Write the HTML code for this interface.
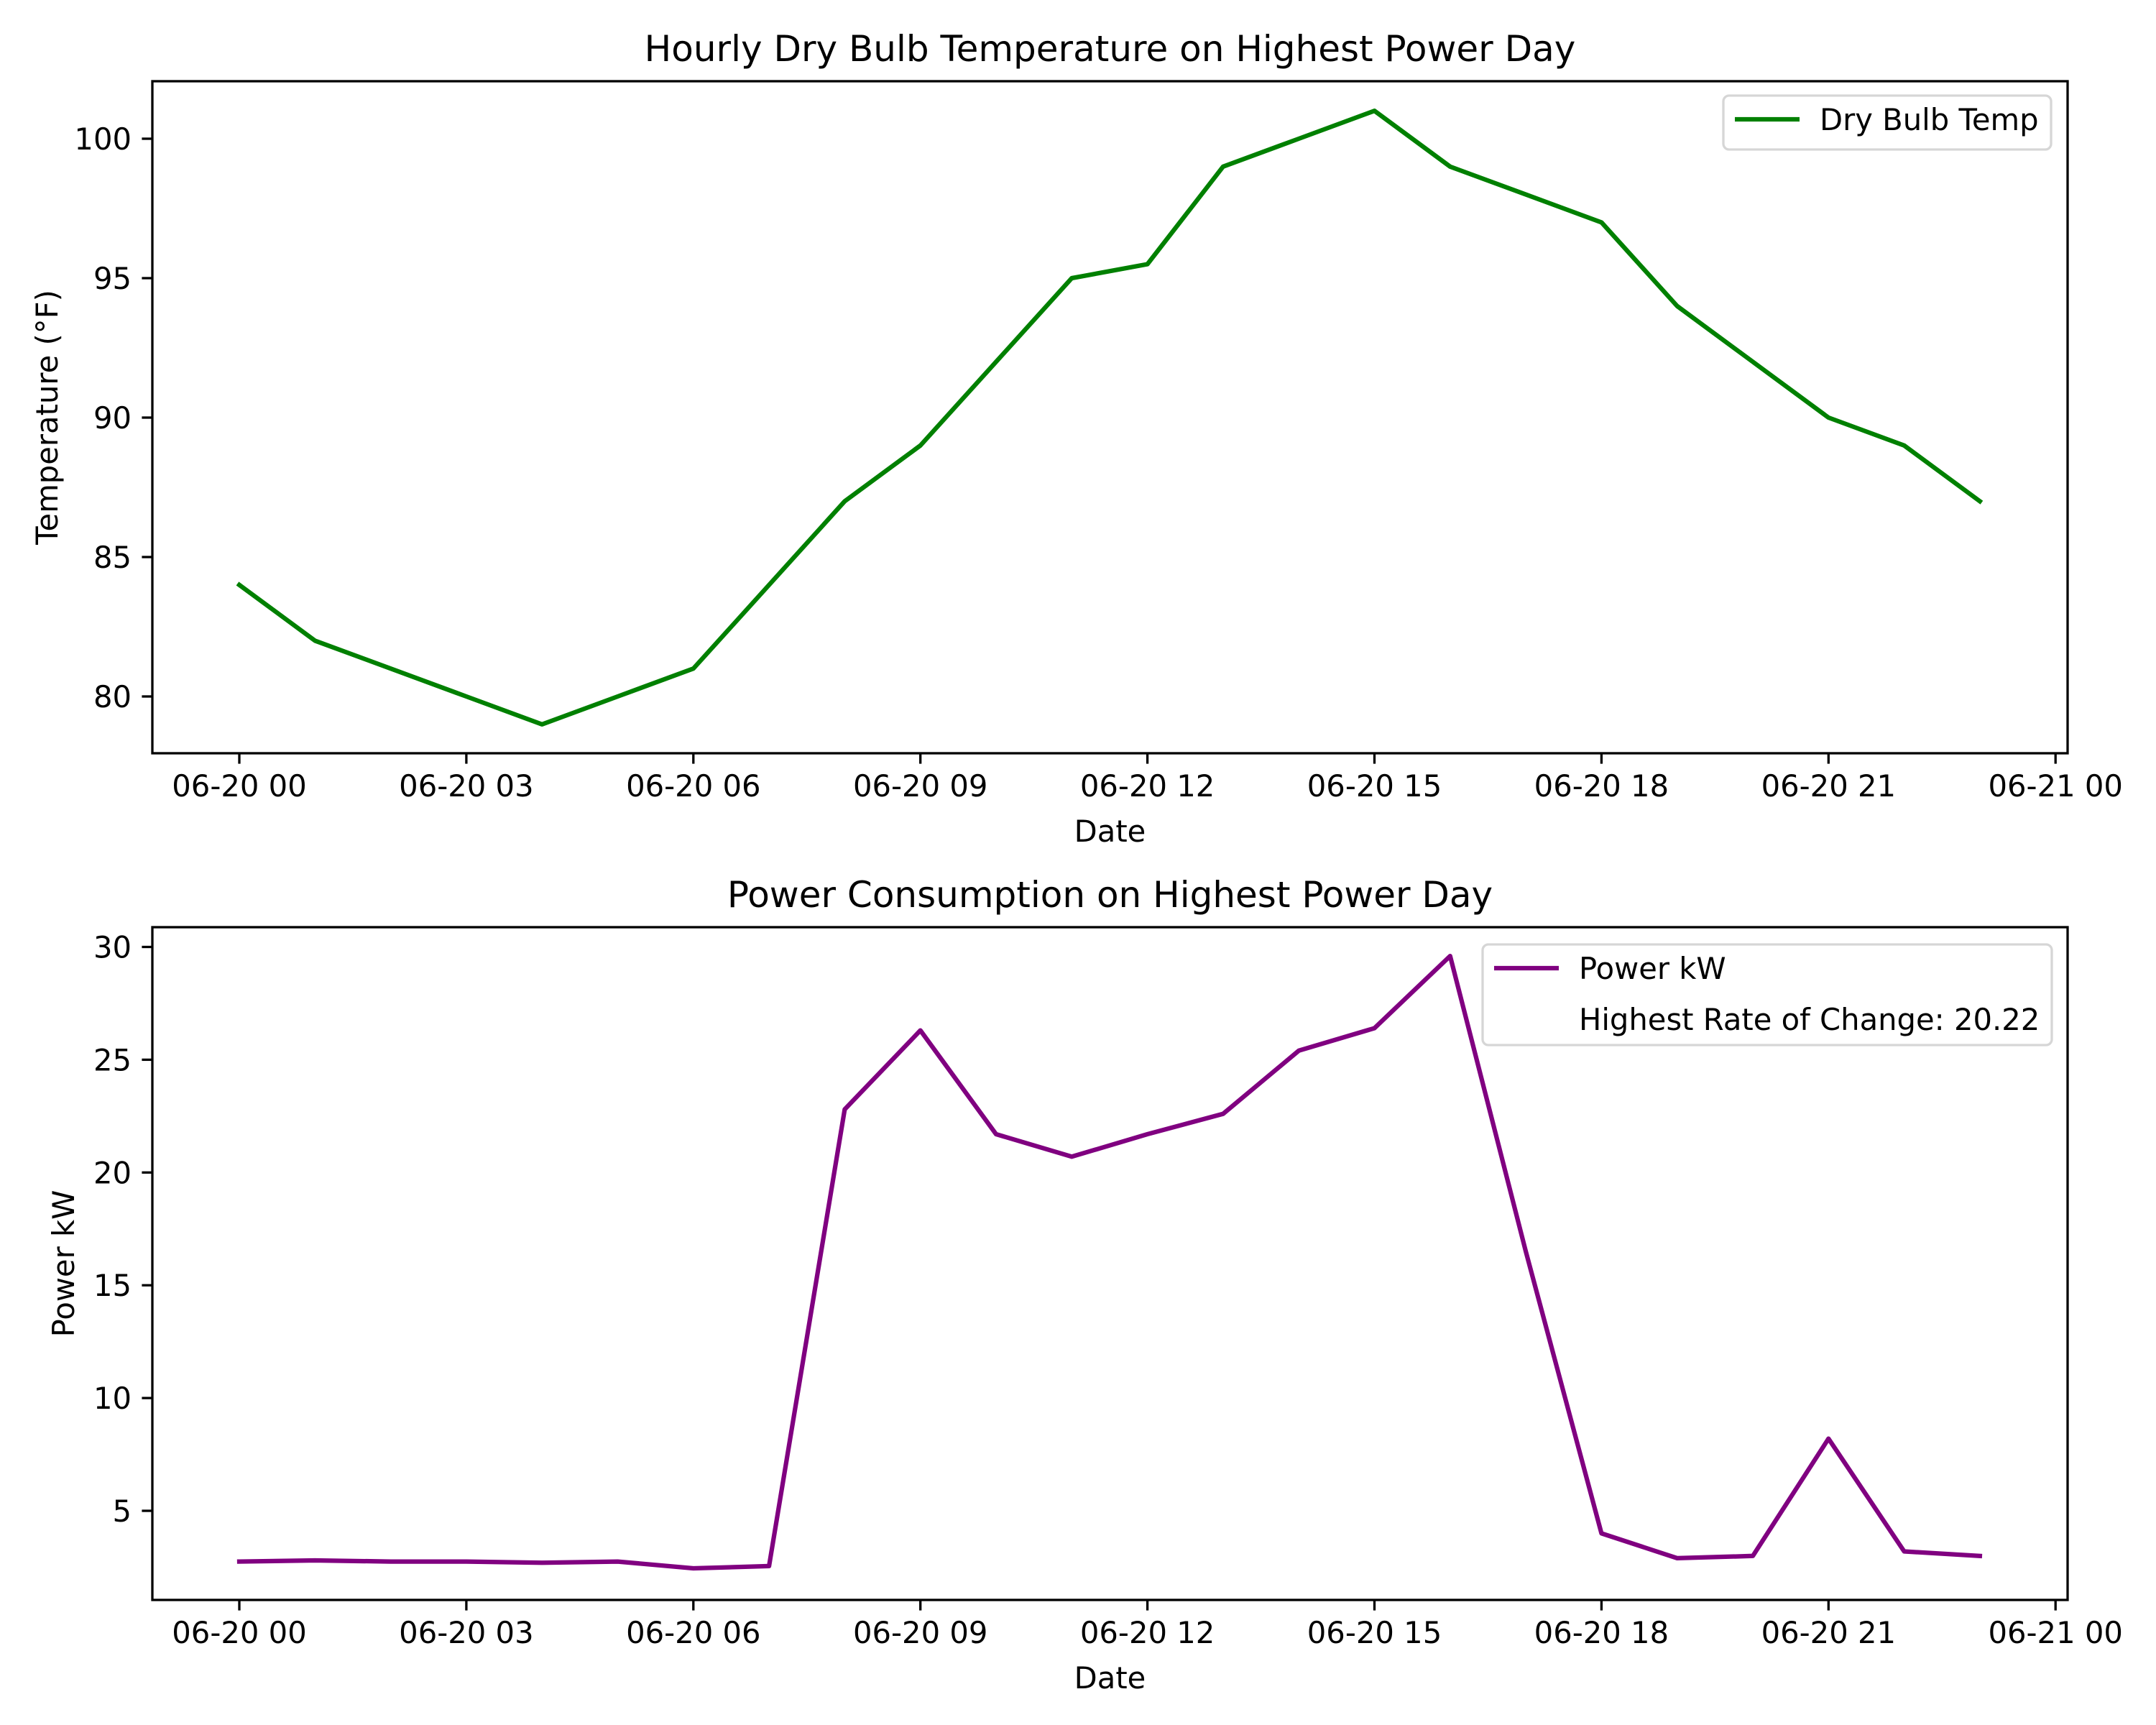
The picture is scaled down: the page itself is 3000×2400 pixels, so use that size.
<!DOCTYPE html>
<html><head><meta charset="utf-8"><style>
html,body{margin:0;padding:0;background:#fff;}
svg{display:block;}
text{font-family:"DejaVu Sans","Liberation Sans",sans-serif;fill:#000;}
</style></head><body>
<svg id="fig" xmlns="http://www.w3.org/2000/svg" width="3000" height="2400" viewBox="0 0 3000 2400">
<rect width="3000" height="2400" fill="#fff"/>
</svg>
<script>
const hours = [0,1,2,3,4,5,6,7,8,9,10,11,12,13,14,15,16,17,18,19,20,21,22,23];
const tempValues = [84,82,81,80,79,80,81,84,87,89,92,95,95.5,99,100,101,99,98,97,94,92,90,89,87];
const powerValues = [2.75,2.8,2.75,2.75,2.7,2.75,2.45,2.55,22.8,26.3,21.7,20.7,21.7,22.6,25.4,26.4,29.6,16.5,4.0,2.9,3.0,8.2,3.2,3.0];
const xTickHours = [0,3,6,9,12,15,18,21,24];
const xTickLabels = ["06-20 00","06-20 03","06-20 06","06-20 09","06-20 12","06-20 15","06-20 18","06-20 21","06-21 00"];
const tempTicks = [80,85,90,95,100];
const powerTicks = [5,10,15,20,25,30];

const NS="http://www.w3.org/2000/svg";
const svg=document.getElementById('fig');
function mk(tag,attrs,parent){const e=document.createElementNS(NS,tag);for(const k in attrs)e.setAttribute(k,attrs[k]);(parent||svg).appendChild(e);return e;}
const X0=212, X1=2877;
function xs(h){return 333+h*105.3;}

function panel(cfg){
  const g=mk('g',{});
  
  
  const ys=cfg.ys;
  const pts=hours.map((h,i)=>xs(h).toFixed(1)+','+ys(cfg.values[i]).toFixed(1)).join(' ');
  const pl=mk('polyline',{points:pts,fill:'none',stroke:cfg.color,'stroke-width':6.25,'stroke-linejoin':'round','stroke-linecap':'square'},g);
  
  
  const fr=mk('rect',{x:X0,y:cfg.top,width:X1-X0,height:cfg.bottom-cfg.top,fill:'none',stroke:'#000','stroke-width':3.3},g);
  
  
  xTickHours.forEach((h,i)=>{
    const x=xs(h);
    mk('line',{x1:x,x2:x,y1:cfg.bottom,y2:cfg.bottom+14.6,stroke:'#000','stroke-width':3.3},g);
    const t=mk('text',{x:x,y:cfg.bottom+60,'text-anchor':'middle','font-size':41.7},g);
    t.textContent=xTickLabels[i];
    
    
  });
  cfg.ticks.forEach(v=>{
    const y=ys(v);
    mk('line',{x1:X0,x2:X0-14.6,y1:y,y2:y,stroke:'#000','stroke-width':3.3},g);
    const t=mk('text',{x:X0-29,y:y+15,'text-anchor':'end','font-size':41.7},g);
    t.textContent=String(v);
    
    
  });
  const xl=mk('text',{x:(X0+X1)/2,y:cfg.bottom+123,'text-anchor':'middle','font-size':41.7},g);
  xl.textContent='Date';
  
  
  const cy=(cfg.top+cfg.bottom)/2;
  const yl=mk('text',{x:cfg.ylX,y:cy,'text-anchor':'middle','font-size':41.7,transform:'rotate(-90 '+cfg.ylX+' '+cy+')'},g);
  yl.textContent=cfg.ylabel;
  
  
  const ti=mk('text',{x:(X0+X1)/2,y:cfg.top-28,'text-anchor':'middle','font-size':50},g);
  ti.textContent=cfg.title;
  
  
  const lg=mk('g',{},g);
  
  
  const L=cfg.legend;
  mk('rect',{x:L.x,y:L.y,width:L.w,height:L.h,rx:8,fill:'#fff','fill-opacity':0.8,stroke:'#d6d6d6','stroke-width':3.3},lg);
  const ly=L.y+33;
  mk('line',{x1:L.x+16,x2:L.x+106,y1:ly,y2:ly,stroke:cfg.color,'stroke-width':6.25},lg);
  L.labels.forEach((s,i)=>{
    const t=mk('text',{x:L.x+134,y:ly+15+i*71,'font-size':41.7},lg);
    t.textContent=s;
    
    
  });
}

panel({name:'temperature-chart',lineName:'dry-bulb-temp-line',values:tempValues,color:'#008000',
  top:113,bottom:1048,ys:v=>193+(100-v)*38.8,ticks:tempTicks,ylX:80,ylabel:'Temperature (°F)',
  title:'Hourly Dry Bulb Temperature on Highest Power Day',
  legend:{x:2398,y:133,w:456,h:75,labels:['Dry Bulb Temp']}});
panel({name:'power-chart',lineName:'power-kw-line',values:powerValues,color:'#800080',
  top:1290,bottom:2226,ys:v=>2102-(v-5)*31.38,ticks:powerTicks,ylX:103,ylabel:'Power kW',
  title:'Power Consumption on Highest Power Day',
  legend:{x:2063,y:1314,w:792,h:140,labels:['Power kW','Highest Rate of Change: 20.22']}});
</script>
</body></html>
